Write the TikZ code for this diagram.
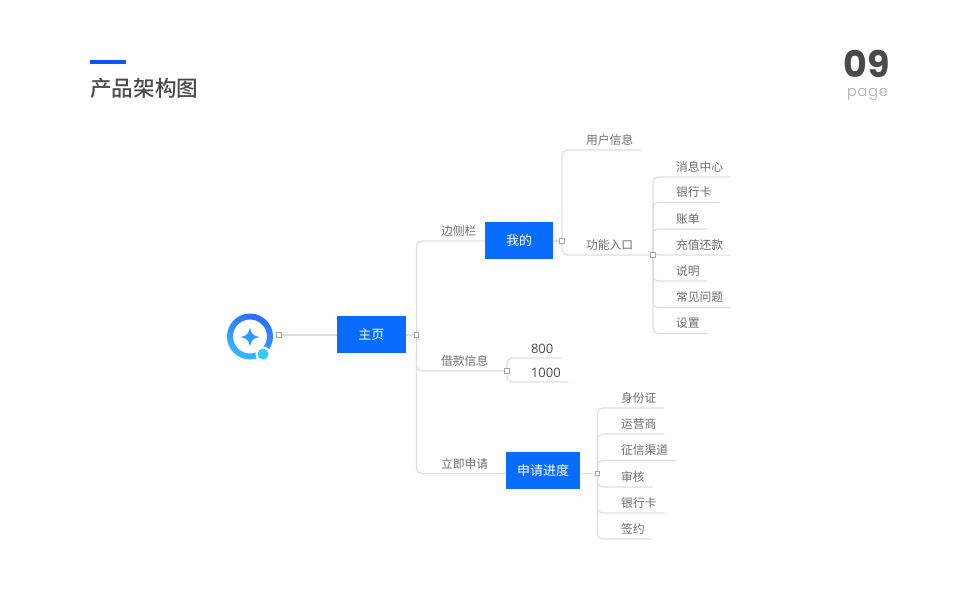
\documentclass[tikz,border=0pt]{standalone}
\usepackage{fontspec}
\setmainfont{Noto Sans CJK SC}
\newfontfamily\titlefont{Noto Sans CJK SC Medium}
\newfontfamily\numfont{Poppins}
\newfontfamily\digitfont{Open Sans}
\newfontfamily\pagefont[LetterSpace=6]{Poppins Light}
\usetikzlibrary{backgrounds}
\definecolor{mainblue}{HTML}{0A6CFF}
\definecolor{barblue}{HTML}{0A55FF}
\definecolor{linegray}{HTML}{DEDEDE}
\definecolor{textgray}{HTML}{6E6E6E}
\definecolor{titlegray}{HTML}{4A4A4A}
\definecolor{pagegray}{HTML}{ABABAB}
\definecolor{ringtop}{HTML}{2A6CFF}
\definecolor{ringend}{HTML}{33BBFF}
\definecolor{dotblue}{HTML}{33CCFF}
\definecolor{starblue}{HTML}{3399FF}
\tikzset{
  topic/.style={rectangle, fill=mainblue, text=white, minimum height=37.5pt,
                inner sep=0pt, outer sep=0pt, align=center,
                font=\fontsize{13}{15}\selectfont},
  leaf/.style={rectangle, anchor=south west, inner xsep=8pt, inner ysep=2.6pt,
               text depth=3pt, text height=9pt, outer sep=0pt, text=textgray,
               font=\fontsize{11.8}{14}\selectfont},
  numleaf/.style={leaf, inner ysep=1.5pt, text=titlegray, font=\fontsize{13}{14}\digitfont},
  junction/.style={rectangle, draw=black!35, fill=white, line width=0.6pt,
                   minimum size=4.5pt, inner sep=0pt},
  branch/.style={draw=linegray, line width=1.2pt, rounded corners=5pt}
}
\begin{document}
\begin{tikzpicture}[x=1pt,y=-1pt]
\path[use as bounding box] (0,0) rectangle (960,600);
\fill[barblue] (90,60) rectangle (126,64);
\node[anchor=west, inner sep=0pt, text=titlegray, font=\fontsize{21.6}{26}\titlefont] (title) at (90,88) {产品架构图};
\node[inner sep=0pt, text=titlegray, font=\fontsize{36.5}{38}\numfont\bfseries] (pagenum) at (867,64) {09};
\node[inner sep=0pt, text=pagegray, font=\fontsize{14.5}{15}\pagefont] (pagetxt) at (867.5,94.5) {page};
% logo
\shade[even odd rule, top color=ringtop, bottom color=ringend, shading angle=-25]
  (250,336.5) circle (23) (250,336.5) circle (17);
\fill[white] (263,354) circle (7.5);
\fill[dotblue] (263,354) circle (5.5);
\fill[starblue] (250,327.5) .. controls (251,333.5) and (253.5,336) .. (259.5,337)
  .. controls (253.5,338) and (251,340.5) .. (250,346.5)
  .. controls (249,340.5) and (246.5,338) .. (240.5,337)
  .. controls (246.5,336) and (249,333.5) .. (250,327.5) -- cycle;
% topics
\node[topic, minimum width=68.5pt] (home) at (371.25,334.5) {主页};
\node[topic, minimum width=68pt] (mine) at (519,240.5) {我的};
\node[topic, minimum width=74.5pt] (progress) at (543,470.5) {申请进度};
% junctions
\node[junction] (jlogo) at (279,335) {};
\node[junction] (jhome) at (416.5,335) {};
\node[junction] (jmine) at (562,241) {};
\node[junction] (jentry) at (653,255) {};
\node[junction] (jloan) at (507,371) {};
\node[junction] (jprog) at (597.5,473.5) {};
% first level
\node[leaf] (side) at (433,241) {边侧栏};
\node[leaf] (loan) at (433,371) {借款信息};
\node[leaf] (apply) at (433,474) {立即申请};
\node[leaf] (user) at (578,150) {用户信息};
\node[leaf] (entry) at (578,255) {功能入口};
\begin{scope}[on background layer]
\draw[branch] (jlogo.center) -- (jhome.center);
\draw[branch] (jhome.center) |- (mine.west |- jmine);
\draw[branch] (jhome.center) |- (jloan.center);
\draw[branch] (jhome.center) |- (progress.west |- jprog);
\draw[branch] (mine.east |- jmine) -- (jmine.center);
\draw[branch] (jmine.center) |- (user.south east);
\draw[branch] (jmine.center) |- (jentry.center);
\draw[branch] (progress.east |- jprog) -- (jprog.center);
\end{scope}
% leaves
\foreach \nm/\txt/\ypos in {msg/消息中心/177,cardA/银行卡/202.5,bill/账单/229,repay/充值还款/255,
    note/说明/281,faq/常见问题/307.5,setting/设置/333.5} {
  \node[leaf] (\nm) at (668,\ypos) {\txt};
  \begin{scope}[on background layer]
  \draw[branch] (jentry.center) |- (\nm.south east);
  \end{scope}
}
\foreach \nm/\txt/\ypos in {amtA/800/358,amtB/1000/382} {
  \node[numleaf] (\nm) at (523,\ypos) {\txt};
  \begin{scope}[on background layer]
  \draw[branch] (jloan.center) |- (\nm.south east);
  \end{scope}
}
\foreach \nm/\txt/\ypos in {idcard/身份证/408,carrier/运营商/434,credit/征信渠道/460.5,
    audit/审核/487,cardB/银行卡/513,sign/签约/539} {
  \node[leaf] (\nm) at (613,\ypos) {\txt};
  \begin{scope}[on background layer]
  \draw[branch] (jprog.center) |- (\nm.south east);
  \end{scope}
}
\end{tikzpicture}
\end{document}
